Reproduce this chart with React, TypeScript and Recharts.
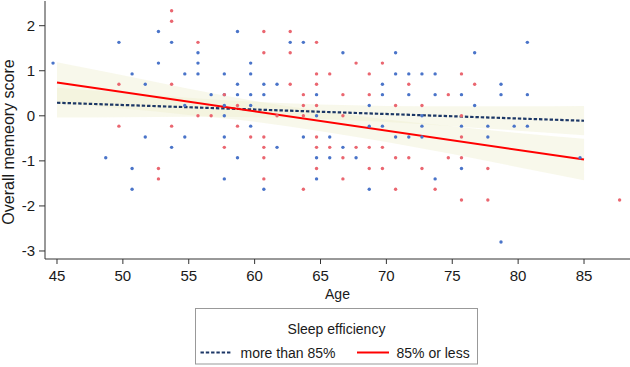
import React from 'react';
import { ComposedChart, Area, Line, Scatter, XAxis, YAxis } from 'recharts';

const font = '"Liberation Sans", Arial, sans-serif';

const ageTicks = [45, 50, 55, 60, 65, 70, 75, 80, 85];
const scoreTicks = [-3, -2, -1, 0, 1, 2];

// sleep efficiency more than 85%: [age, score]
const moreThan85 = [
  [44.7, 1.17], [48.7, -0.93], [49.7, 1.63],
  [50.7, 0.93], [50.7, -1.17], [50.7, -1.63],
  [51.7, 0.7], [51.7, -0.47], [52.7, 1.87], [52.7, 1.17],
  [53.7, 1.63], [53.7, -0.7], [54.7, 0.93], [54.7, 0.23], [54.7, -0.47],
  [55.7, 1.4], [55.7, 1.17], [55.7, 0.93], [56.7, 0.47],
  [57.7, 0.93], [57.7, 0.47], [57.7, 0.23], [57.7, 0], [57.7, -0.47], [57.7, -1.4],
  [58.7, 1.87], [58.7, 0.7], [58.7, 0.47], [58.7, -0.93],
  [59.7, 1.17], [59.7, 0.93], [59.7, 0.47], [59.7, 0.23], [59.7, -0.23],
  [60.7, 0.7], [60.7, 0.47], [60.7, -1.63], [61.7, 0.7], [61.7, -0.7],
  [62.7, 1.63], [63.7, 1.63], [63.7, -0.47],
  [64.7, 0.47], [64.7, 0], [64.7, -0.93], [64.7, -1.4],
  [65.7, -0.47], [65.7, -0.93], [66.7, 1.4], [66.7, -0.7], [67.7, -0.93],
  [68.7, 0.23], [68.7, -0.23], [68.7, -1.63],
  [69.7, 0.7], [69.7, 0.47], [69.7, -0.23],
  [70.7, 1.4], [70.7, 0.93], [70.7, -0.47],
  [71.7, 0.93], [71.7, 0.47], [71.7, -0.47],
  [72.7, 0.93], [72.7, 0], [72.7, -0.23], [72.7, -0.47],
  [73.7, 0.93], [73.7, 0.47], [73.7, -1.4],
  [75.7, 0.47], [75.7, -0.23], [75.7, -1.17], [76.7, 1.4], [76.7, 0.23],
  [77.7, -0.23], [77.7, -0.47], [78.7, 0.7], [78.7, 0.47], [78.7, -2.8],
  [79.7, -0.23], [80.7, 1.63], [80.7, 0.47], [80.7, -0.23], [84.7, -0.93],
];

// sleep efficiency 85% or less: [age, score]
const lessThan85 = [
  [49.7, 0.7], [49.7, -0.23], [52.7, -1.17], [52.7, -1.4],
  [53.7, 2.33], [53.7, 2.1], [53.7, 0.7], [53.7, -0.23],
  [55.7, 1.63], [55.7, 0], [56.7, 0], [57.7, 0.47], [57.7, -0.7],
  [58.7, 0.23], [58.7, -0.23], [59.7, -0.47],
  [60.7, 1.87], [60.7, 1.4], [60.7, -0.47], [60.7, -0.7], [60.7, -0.93], [60.7, -1.4],
  [61.7, 0], [62.7, 1.87], [62.7, 1.4], [62.7, 0.7],
  [63.7, 0.47], [63.7, 0.23], [63.7, 0], [63.7, -1.63],
  [64.7, 1.63], [64.7, 0.93], [64.7, 0.7], [64.7, 0.23], [64.7, -0.47], [64.7, -0.7], [64.7, -1.17],
  [65.7, 0.93], [65.7, -0.7], [66.7, 0.47], [66.7, 0], [66.7, -0.93], [66.7, -1.4],
  [67.7, 1.17], [67.7, -0.7], [68.7, 0.93], [68.7, 0.47], [68.7, -0.7], [68.7, -1.17],
  [69.7, 1.17], [69.7, -0.7], [69.7, -1.17], [70.7, 0.23], [70.7, -0.93], [70.7, -1.63],
  [71.7, 0.7], [71.7, -0.93], [72.7, 0.23], [72.7, -1.17], [73.7, -1.63],
  [74.7, 0.47], [74.7, -0.93], [75.7, 0.93], [75.7, 0], [75.7, -0.47], [75.7, -0.93], [75.7, -1.87],
  [76.7, 0.7], [77.7, -1.17], [77.7, -1.87], [87.7, -1.87],
];

// fitted lines at both ends of the age range
const fitAges = [45, 85];
const fitMore = [0.29, -0.11];
const fitLess = [0.74, -0.97];

// confidence bands, read every 5 years
const bandAges = [45, 50, 55, 60, 65, 70, 75, 80, 85];
const moreLow = [-0.04, -0.03, -0.02, -0.03, -0.07, -0.14, -0.23, -0.33, -0.43];
const moreHigh = [0.62, 0.51, 0.4, 0.31, 0.25, 0.22, 0.21, 0.21, 0.22];
const lessLow = [0.28, 0.16, 0.02, -0.13, -0.34, -0.58, -0.85, -1.14, -1.43];
const lessHigh = [1.19, 0.9, 0.6, 0.33, 0.11, -0.08, -0.23, -0.38, -0.51];

const lineData = bandAges.map((age, i) => {
  const f = fitAges.indexOf(age);
  return {
    age,
    moreBand: [moreLow[i], moreHigh[i]],
    lessBand: [lessLow[i], lessHigh[i]],
    fitMore: f >= 0 ? fitMore[f] : null,
    fitLess: f >= 0 ? fitLess[f] : null,
  };
});

const toPoints = (rows: number[][]) => rows.map(([age, score]) => ({ age, score }));

const dot = (color: string) => (props: any) => (
  <circle cx={props.cx} cy={props.cy} r={1.7} fill={color} />
);

const tickStyle = { fontSize: 15, fill: '#1a1a1a', fontFamily: font };

export default function App() {
  return (
    <div style={{ position: 'absolute', left: 0, top: 0, width: 630, height: 367, background: '#fff' }}>
      <ComposedChart
        width={630}
        height={367}
        data={lineData}
        margin={{ top: 1, right: 0, bottom: 67, left: 0 }}
      >
        <XAxis
          dataKey="age"
          type="number"
          domain={[44.09, 88.49]}
          ticks={ageTicks}
          allowDataOverflow
          height={41}
          tick={tickStyle}
          tickSize={5}
          tickMargin={6}
          stroke="#333"
        />
        <YAxis
          type="number"
          domain={[-3.178, 2.548]}
          ticks={scoreTicks}
          allowDataOverflow
          width={45}
          tick={tickStyle}
          tickSize={6}
          tickMargin={4}
          stroke="#333"
        />
        <Area
          dataKey="moreBand"
          type="monotone"
          stroke="none"
          fill="#eeeed0"
          fillOpacity={0.42}
          isAnimationActive={false}
        />
        <Area
          dataKey="lessBand"
          type="monotone"
          stroke="none"
          fill="#eeeed0"
          fillOpacity={0.42}
          isAnimationActive={false}
        />
        <Line
          dataKey="fitMore"
          connectNulls
          stroke="#1c3766"
          strokeWidth={2.2}
          strokeDasharray="3.4 1.9"
          dot={false}
          isAnimationActive={false}
        />
        <Line
          dataKey="fitLess"
          connectNulls
          stroke="#ff0000"
          strokeWidth={2}
          dot={false}
          isAnimationActive={false}
        />
        <Scatter data={toPoints(moreThan85)} dataKey="score" shape={dot('#4a74c9')} isAnimationActive={false} />
        <Scatter data={toPoints(lessThan85)} dataKey="score" shape={dot('#ea6670')} isAnimationActive={false} />
      </ComposedChart>

      <svg
        width={630}
        height={367}
        style={{ position: 'absolute', left: 0, top: 0, pointerEvents: 'none' }}
        fontFamily={font}
      >
        <text x={337.5} y={299} textAnchor="middle" fontSize={14} fill="#1a1a1a">Age</text>
        <text
          x={13.5}
          y={142}
          textAnchor="middle"
          fontSize={16}
          fill="#1a1a1a"
          transform="rotate(-90 13.5 142)"
        >
          Overall memeory score
        </text>
        <rect x={195.5} y={308.5} width={282} height={55.5} fill="#fff" stroke="#999" />
        <text x={336.5} y={334} textAnchor="middle" fontSize={14} fill="#1a1a1a">Sleep efficiency</text>
        <line x1={200.5} y1={352.5} x2={232} y2={352.5} stroke="#1c3766" strokeWidth={2.2} strokeDasharray="3.4 1.9" />
        <text x={240.5} y={357.5} fontSize={14} fill="#1a1a1a">more than 85%</text>
        <line x1={357} y1={352.5} x2={389} y2={352.5} stroke="#ff0000" strokeWidth={2} />
        <text x={396.5} y={357.5} fontSize={14} fill="#1a1a1a">85% or less</text>
      </svg>
    </div>
  );
}
